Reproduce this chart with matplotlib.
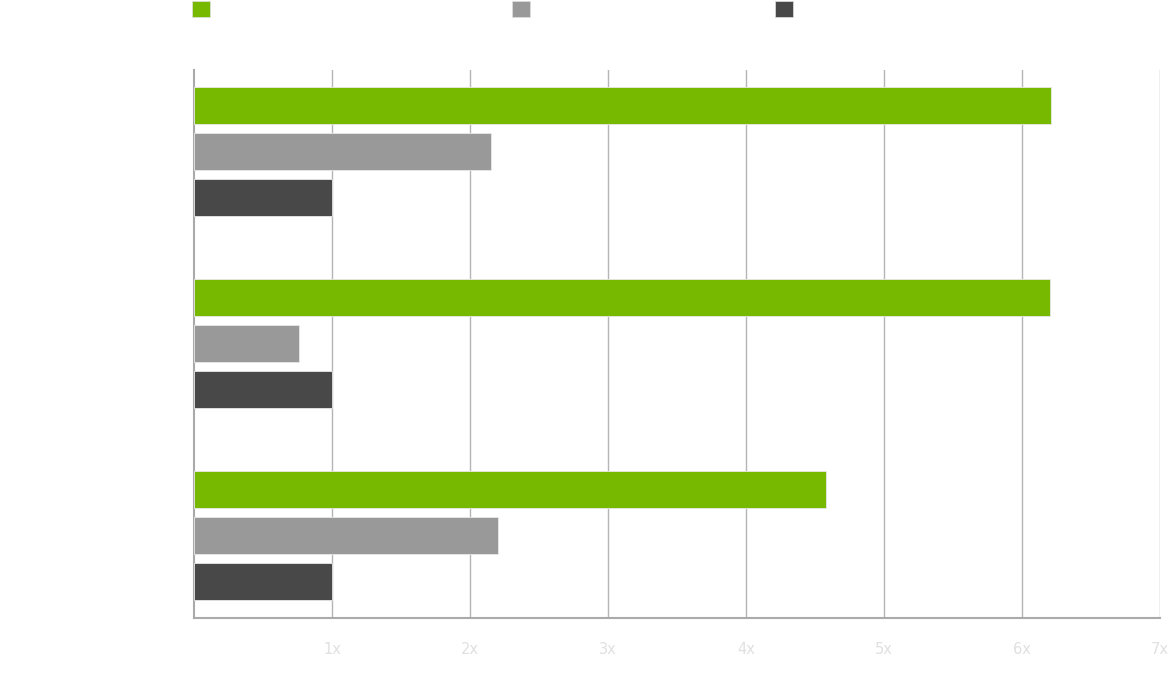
import matplotlib.pyplot as plt
import numpy as np
from matplotlib.patches import Patch

categories = ["Workload A", "Workload B", "Workload C"]
series_names = ["Series 1", "Series 2", "Series 3"]
green_vals = [6.21, 6.20, 4.58]
grey_vals = [2.15, 0.76, 2.20]
dark_vals = [1.0, 1.0, 1.0]
tick_vals = [1, 2, 3, 4, 5, 6, 7]
tick_labels = ["1x", "2x", "3x", "4x", "5x", "6x", "7x"]

colors = ["#76b900", "#999999", "#484848"]

fig = plt.figure(figsize=(11.69, 6.98), dpi=100)
ax = fig.add_axes([194 / 1169, 1 - 618 / 698, (1160 - 194) / 1169, (618 - 70) / 698])

y = np.arange(len(categories))
pitch = 46 / 192
height = 37 / 192
for i, vals in enumerate([green_vals, grey_vals, dark_vals]):
    ax.barh(y + (i - 1) * pitch, vals, height=height, color=colors[i],
            edgecolor="#e8e8e8", linewidth=0.6, zorder=3)

ax.set_xlim(0, 7)
ax.set_ylim(2.43, -0.425)
ax.set_xticks(tick_vals)
ax.set_xticklabels(tick_labels, color="#e0e0e0", fontsize=10.5)
ax.tick_params(axis="x", length=0, pad=17)
ax.set_yticks(y)
ax.set_yticklabels(categories, color="white")
ax.tick_params(axis="y", length=0)
ax.grid(axis="x", color="#b5b5b5", linewidth=1)
ax.set_axisbelow(True)
for side in ["top", "right"]:
    ax.spines[side].set_visible(False)
for side in ["left", "bottom"]:
    ax.spines[side].set_color("#aaaaaa")
    ax.spines[side].set_linewidth(1.5)

# legend squares spread across the top
legend_x = [191, 511, 774]
for i in range(3):
    fig.legend(handles=[Patch(facecolor=colors[i], edgecolor="#e0e0e0", linewidth=0.5)],
               labels=[series_names[i]], loc="upper left",
               bbox_to_anchor=(legend_x[i] / 1169, 1.0), frameon=False,
               handlelength=1.0, handleheight=1.0, borderaxespad=0, borderpad=0.05,
               labelcolor="white", fontsize=13)

fig.savefig("out.png", dpi=100)
